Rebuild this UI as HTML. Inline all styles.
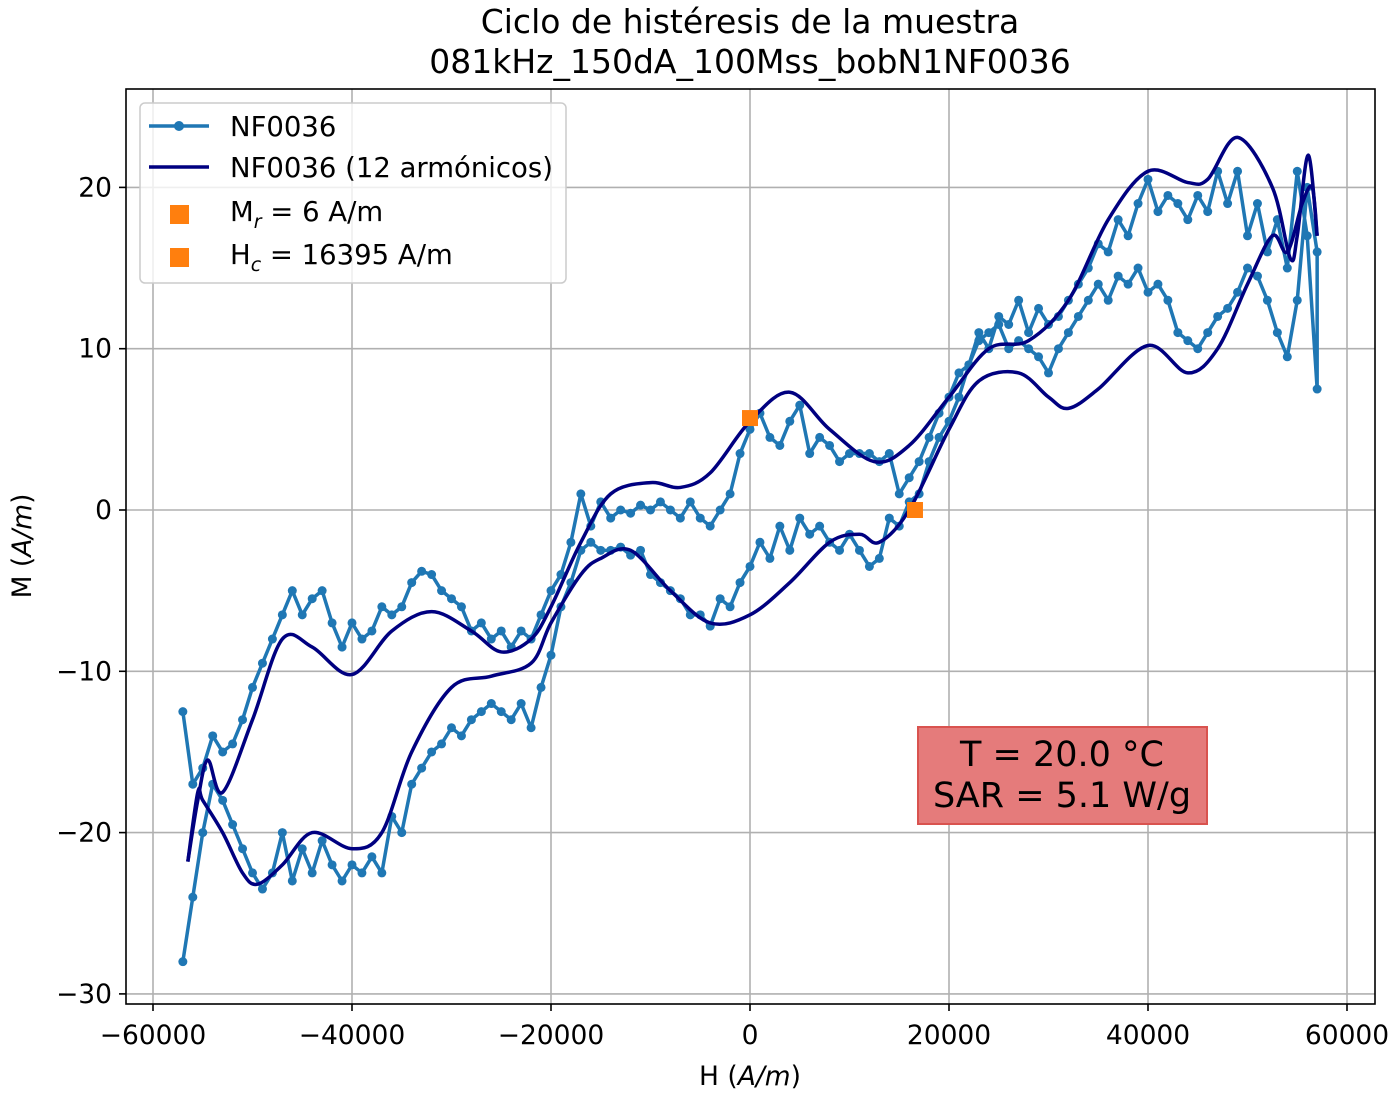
<!DOCTYPE html>
<html><head><meta charset="utf-8"><style>
body{margin:0;background:#fff;font-family:"DejaVu Sans","Liberation Sans",sans-serif;}
svg text{font-family:"DejaVu Sans","Liberation Sans",sans-serif;}
</style></head><body>
<svg id="chart" width="1400" height="1100" xmlns="http://www.w3.org/2000/svg">
<rect width="1400" height="1100" fill="#fff"/>
<text x="750" y="33" font-size="33" text-anchor="middle">Ciclo de histéresis de la muestra</text>
<text x="750" y="73" font-size="33" text-anchor="middle">081kHz_150dA_100Mss_bobN1NF0036</text>
<g id="grid"></g>
<g id="series"></g>
<rect x="126" y="89" width="1249" height="915" fill="none" stroke="#000" stroke-width="1.6"/>
<g id="ticks"></g>
<text x="750" y="1085" font-size="26.5" text-anchor="middle">H (<tspan font-style="italic">A/m</tspan>)</text>
<text transform="translate(31,546) rotate(-90)" font-size="26.5" text-anchor="middle">M (<tspan font-style="italic">A/m</tspan>)</text>
<g>
<rect x="140" y="103" width="426" height="180" rx="5" fill="#fff" fill-opacity="0.8" stroke="#ccc" stroke-width="1.5"/>
<line x1="149" y1="126" x2="209" y2="126" stroke="#1f77b4" stroke-width="3.5"/>
<circle cx="179" cy="126" r="5" fill="#1f77b4"/>
<text x="230" y="136" font-size="27.5">NF0036</text>
<line x1="149" y1="167" x2="209" y2="167" stroke="#000080" stroke-width="3.5"/>
<text x="230" y="177" font-size="27.5">NF0036 (12 armónicos)</text>
<rect x="170" y="205" width="19" height="19" fill="#ff7f0e"/>
<text x="230" y="221" font-size="27.5">M<tspan font-size="19" font-style="italic" dy="7">r</tspan><tspan dy="-7"> = 6 A/m</tspan></text>
<rect x="170" y="248" width="19" height="19" fill="#ff7f0e"/>
<text x="230" y="264" font-size="27.5">H<tspan font-size="19" font-style="italic" dy="7">c</tspan><tspan dy="-7"> = 16395 A/m</tspan></text>
</g>
<g>
<rect x="918" y="727" width="289" height="97" fill="#e57b7b" stroke="#d9534f" stroke-width="2"/>
<text x="1062" y="766" font-size="35" text-anchor="middle">T = 20.0 °C</text>
<text x="1062" y="807" font-size="35" text-anchor="middle">SAR = 5.1 W/g</text>
</g>
</svg>
<script>
const xTicks=[-60000,-40000,-20000,0,20000,40000,60000];
const yTicks=[-30,-20,-10,0,10,20];
const hStart=-57000, hStep=1000;
const dataLowerM=[-28,-24,-20,-17,-18,-19.5,-21,-22.5,-23.5,-22.5,-20,-23,-21,-22.5,-20.5,-22,-23,-22,-22.5,-21.5,-22.5,-19,-20,-17,-16,-15,-14.5,-13.5,-14,-13,-12.5,-12,-12.5,-13,-12,-13.5,-11,-9,-6,-4.5,-2.5,-2,-2.5,-2.5,-2.3,-2.8,-2.5,-4,-4.5,-5,-5.5,-6.5,-6.5,-7.2,-5.5,-6,-4.5,-3.5,-2,-3,-1,-2.5,-0.5,-1.5,-1,-2,-2.5,-1.5,-2.5,-3.5,-3,-0.5,-1,0.5,1,3,4.5,5.5,7,9,10.5,11,11.5,10,10.5,10,9.5,8.5,10,11,12,13,14,13,14.5,14,15,13.5,14,13,11,10.5,10,11,12,12.5,13.5,15,14.5,13,11,9.5,13,20,16];
const dataUpperM=[7.5,17,21,15,18,16,19,17,21,19,21,18.5,19.5,18,19,19.5,18.5,20.5,19,17,18,16,16.5,15,14,13,12,11.5,12.5,11,13,11.5,12,10,11,9,8.5,7,6,4.5,3,2,1,3.5,3,3.5,3.5,3.5,3,4,4.5,3.5,6.5,5.5,4,4.5,6,5,3.5,1,0,-1,-0.5,0.5,-0.5,0,0.5,0,0.3,-0.2,0,-0.5,0.5,-1,1,-2,-4,-5,-6.5,-8,-7.5,-8.5,-7.5,-8,-7,-7.5,-6,-5.5,-5,-4,-3.8,-4.5,-6,-6.5,-6,-7.5,-8,-7,-8.5,-7,-5,-5.5,-6.5,-5,-6.5,-8,-9.5,-11,-13,-14.5,-15,-14,-16,-17,-12.5];
const fitUpperH=[57000,56100,55000,54300,52500,49000,46000,44000,40000,36000,32000,28000,24000,20000,16000,12500,8000,4000,0,-4000,-7000,-10000,-14000,-17000,-20000,-22000,-25000,-28000,-32000,-36000,-40000,-44000,-47000,-50000,-53000,-54500,-55500,-56500];
const fitUpperM=[17,22,17,15.6,20,23.1,20.5,20.3,21,18,13,10.5,10,7,4,3,5,7.3,5.5,2.3,1.4,1.7,1,-2,-6,-8,-8.8,-7.5,-6.3,-7.5,-10.2,-8.5,-8,-13,-17.5,-15.5,-18,-21.8];
const fitLowerH=[-56500,-55500,-55000,-53000,-51000,-49500,-47000,-44000,-40000,-37000,-34000,-30000,-26000,-22000,-20000,-17000,-15000,-12000,-8000,-4000,0,4000,8000,11000,13000,16000,20000,23000,27000,30000,32000,35000,40000,44000,47000,50000,52500,54000,55500,56500,57000];
const fitLowerM=[-21.8,-17.5,-18,-20,-22.5,-23.2,-22,-20,-21,-20,-15,-11,-10.3,-9.5,-7,-4,-3,-2.5,-5,-7,-6.5,-4.5,-2,-1.5,-2,0,5,8,8.5,7,6.3,7.5,10.2,8.5,10,14,17,16,19,20,17];
const mrPoint=[0,5.7], hcPoint=[16580,0];
const X=h=>750+h*(597/60000), Y=m=>510-m*16.13;
const NS="http://www.w3.org/2000/svg";
function mk(tag,attrs,parent){const e=document.createElementNS(NS,tag);for(const k in attrs)e.setAttribute(k,attrs[k]);parent.appendChild(e);return e;}
const grid=document.getElementById('grid'),ticks=document.getElementById('ticks'),ser=document.getElementById('series');
xTicks.forEach(t=>{
 const g=mk('line',{x1:X(t),x2:X(t),y1:89,y2:1004,stroke:'#b0b0b0','stroke-width':1.6},grid);
 
 
 mk('line',{x1:X(t),x2:X(t),y1:1004,y2:1011,stroke:'#000','stroke-width':1.6},ticks);
 const tx=mk('text',{x:X(t),y:1044,'font-size':26.5,'text-anchor':'middle'},ticks);
 tx.textContent=t<0?'−'+(-t):String(t);
 
 
});
yTicks.forEach(t=>{
 const g=mk('line',{x1:126,x2:1375,y1:Y(t),y2:Y(t),stroke:'#b0b0b0','stroke-width':1.6},grid);
 
 
 mk('line',{x1:119,x2:126,y1:Y(t),y2:Y(t),stroke:'#000','stroke-width':1.6},ticks);
 const tx=mk('text',{x:112,y:Y(t)+9,'font-size':26.5,'text-anchor':'end'},ticks);
 tx.textContent=t<0?'−'+(-t):String(t);
 
 
});
const pts=[];
dataLowerM.forEach((m,i)=>pts.push([hStart+i*hStep,m]));
dataUpperM.forEach((m,i)=>pts.push([-hStart-i*hStep,m]));
const dl=mk('polyline',{points:pts.map(p=>X(p[0])+','+Y(p[1])).join(' '),fill:'none',stroke:'#1f77b4','stroke-width':3.5,'stroke-linejoin':'round'},ser);


pts.forEach(p=>{
 const c=mk('circle',{cx:X(p[0]),cy:Y(p[1]),r:4.5,fill:'#1f77b4'},ser);
 
 
});
function smooth(H,M){const p=H.map((h,i)=>[X(h),Y(M[i])]);let d='M'+p[0][0]+','+p[0][1];
 for(let i=0;i<p.length-1;i++){const p0=p[i-1]||p[i],p1=p[i],p2=p[i+1],p3=p[i+2]||p2;
 d+=' C'+(p1[0]+(p2[0]-p0[0])/6)+','+(p1[1]+(p2[1]-p0[1])/6)+' '+(p2[0]-(p3[0]-p1[0])/6)+','+(p2[1]-(p3[1]-p1[1])/6)+' '+p2[0]+','+p2[1];}
 return d;}
const fu=mk('path',{d:smooth(fitUpperH,fitUpperM),fill:'none',stroke:'#000080','stroke-width':3.5},ser);


const fl=mk('path',{d:smooth(fitLowerH,fitLowerM),fill:'none',stroke:'#000080','stroke-width':3.5},ser);


const mr=mk('rect',{x:X(mrPoint[0])-8,y:Y(mrPoint[1])-8,width:16,height:16,fill:'#ff7f0e'},ser);


const hc=mk('rect',{x:X(hcPoint[0])-8,y:Y(hcPoint[1])-8,width:16,height:16,fill:'#ff7f0e'},ser);


</script>
</body></html>
